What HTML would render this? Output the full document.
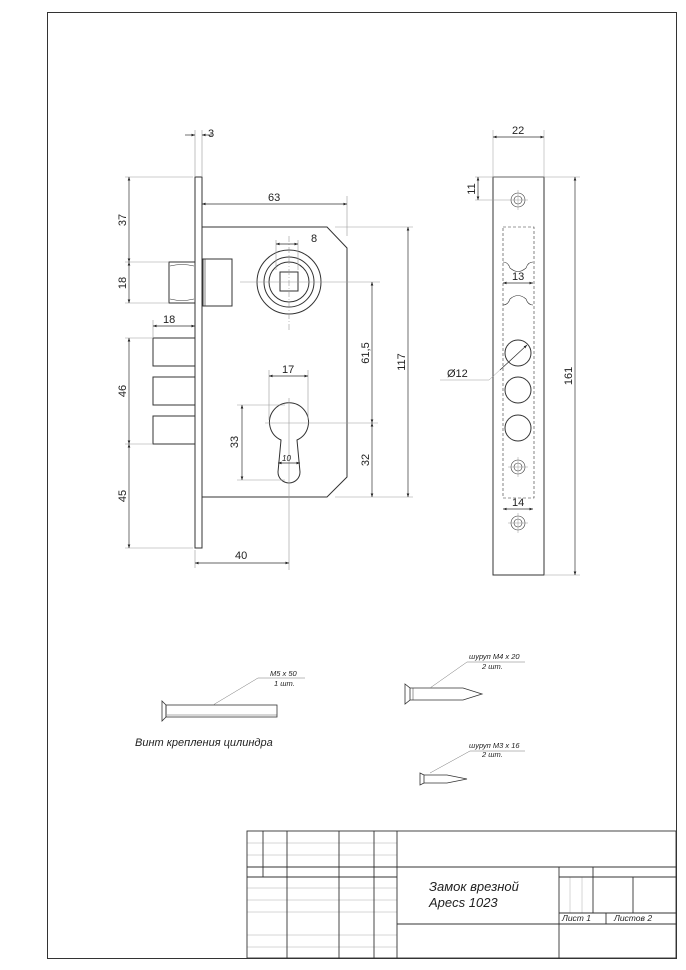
<!DOCTYPE html>
<html><head><meta charset="utf-8"><style>
html,body{margin:0;padding:0;background:#fff}
svg{display:block}
text{font-family:"Liberation Sans",sans-serif;fill:#222}
</style></head><body>
<svg width="686" height="970" viewBox="0 0 686 970" xmlns="http://www.w3.org/2000/svg">
<defs>
<marker id="a" viewBox="0 0 8 6" refX="8" refY="3" markerWidth="5" markerHeight="4" orient="auto-start-reverse"><path d="M0,0L8,3L0,6z" fill="#222"/></marker>
</defs>
<rect x="0" y="0" width="686" height="970" fill="#fff"/>
<rect x="47.5" y="12.5" width="629" height="946" fill="none" stroke="#333" stroke-width="1"/>

<g stroke="#333" fill="none" stroke-width="1">
<rect x="195" y="177" width="7" height="371"/>
<path d="M202,227 H327 L347,248 V477 L327,497 H202"/>
<path d="M169,262 H195 V303 H169 Z"/>
<path d="M170,266 Q182,263 194,266 M170,299 Q182,302 194,299" stroke-width="0.6"/>
<rect x="203" y="259" width="29" height="47"/>
<line x1="205" y1="259" x2="205" y2="306" stroke-width="0.6"/>
<circle cx="289" cy="282" r="32"/>
<circle cx="289" cy="282" r="25"/>
<circle cx="289" cy="282" r="20"/>
<rect x="280" y="272" width="18" height="19"/>
<rect x="153" y="338" width="42" height="28"/>
<rect x="153" y="377" width="42" height="28"/>
<rect x="153" y="416" width="42" height="28"/>
<path d="M281,440 A19.5,19.5 0 1 1 297,440 L300,472 A11,11 0 0 1 278,472 Z"/>
</g>
<g stroke="#999" stroke-width="0.6" fill="none">
<line x1="289" y1="236" x2="289" y2="330" stroke-dasharray="6,2,1,2"/>
<line x1="240" y1="282" x2="380" y2="282"/>
<line x1="289" y1="398" x2="289" y2="570"/>
<line x1="265" y1="423" x2="378" y2="423"/>
<line x1="195" y1="130" x2="195" y2="177"/><line x1="202" y1="130" x2="202" y2="177"/>
<line x1="347" y1="196" x2="347" y2="236"/>
<line x1="276" y1="240" x2="276" y2="270"/><line x1="298" y1="240" x2="298" y2="270"/>
<line x1="125" y1="177" x2="193" y2="177"/>
<line x1="125" y1="262" x2="168" y2="262"/>
<line x1="125" y1="303" x2="168" y2="303"/>
<line x1="125" y1="338" x2="152" y2="338"/>
<line x1="125" y1="444" x2="152" y2="444"/>
<line x1="125" y1="548" x2="193" y2="548"/>
<line x1="153" y1="320" x2="153" y2="337"/>
<line x1="269" y1="370" x2="269" y2="420"/><line x1="308" y1="370" x2="308" y2="420"/>
<line x1="237" y1="405" x2="285" y2="405"/><line x1="237" y1="480" x2="285" y2="480"/>
<line x1="335" y1="227" x2="413" y2="227"/>
<line x1="335" y1="497" x2="413" y2="497"/>
<line x1="195" y1="550" x2="195" y2="568"/>
</g>
<g stroke="#333" stroke-width="0.7" fill="none">
<line x1="185" y1="135" x2="195" y2="135" marker-end="url(#a)"/>
<line x1="212" y1="135" x2="202" y2="135" marker-end="url(#a)"/>
<line x1="202" y1="204" x2="347" y2="204" marker-start="url(#a)" marker-end="url(#a)"/>
<line x1="276" y1="244" x2="298" y2="244" marker-start="url(#a)" marker-end="url(#a)"/>
<line x1="129" y1="177" x2="129" y2="262" marker-start="url(#a)" marker-end="url(#a)"/>
<line x1="129" y1="262" x2="129" y2="303" marker-start="url(#a)" marker-end="url(#a)"/>
<line x1="129" y1="338" x2="129" y2="444" marker-start="url(#a)" marker-end="url(#a)"/>
<line x1="129" y1="444" x2="129" y2="548" marker-start="url(#a)" marker-end="url(#a)"/>
<line x1="153" y1="326" x2="195" y2="326" marker-start="url(#a)" marker-end="url(#a)"/>
<line x1="269" y1="376" x2="308" y2="376" marker-start="url(#a)" marker-end="url(#a)"/>
<line x1="242" y1="405" x2="242" y2="480" marker-start="url(#a)" marker-end="url(#a)"/>
<line x1="278" y1="463" x2="300" y2="463" marker-start="url(#a)" marker-end="url(#a)"/>
<line x1="372" y1="282" x2="372" y2="423" marker-start="url(#a)" marker-end="url(#a)"/>
<line x1="372" y1="423" x2="372" y2="497" marker-start="url(#a)" marker-end="url(#a)"/>
<line x1="408" y1="227" x2="408" y2="497" marker-start="url(#a)" marker-end="url(#a)"/>
<line x1="195" y1="563" x2="289" y2="563" marker-start="url(#a)" marker-end="url(#a)"/>
</g>
<g font-size="11">
<text x="208" y="137">3</text>
<text x="268" y="201">63</text>
<text x="311" y="242">8</text>
<text x="163" y="323">18</text>
<text x="282" y="373">17</text>
<text x="282" y="461" font-size="8" font-style="italic">10</text>
<text x="235" y="559">40</text>
<text transform="translate(126,220) rotate(-90)" text-anchor="middle">37</text>
<text transform="translate(126,283) rotate(-90)" text-anchor="middle">18</text>
<text transform="translate(126,391) rotate(-90)" text-anchor="middle">46</text>
<text transform="translate(126,496) rotate(-90)" text-anchor="middle">45</text>
<text transform="translate(238,442) rotate(-90)" text-anchor="middle">33</text>
<text transform="translate(369,353) rotate(-90)" text-anchor="middle">61,5</text>
<text transform="translate(369,460) rotate(-90)" text-anchor="middle">32</text>
<text transform="translate(405,362) rotate(-90)" text-anchor="middle">117</text>
</g>

<g stroke="#333" fill="none" stroke-width="1">
<rect x="493" y="177" width="51" height="398"/>
<circle cx="518" cy="353" r="13"/>
<circle cx="518" cy="390" r="13"/>
<circle cx="518" cy="428" r="13"/>
</g>
<g stroke="#333" fill="none" stroke-width="0.6">
<rect x="503" y="227" width="31" height="271" stroke-dasharray="3,2"/>
<path d="M503,262 Q508,262 510,268 Q518,275 526,268 Q528,262 533,262"/>
<path d="M503,305 Q508,305 510,299 Q518,292 526,299 Q528,305 533,305"/>
<circle cx="518" cy="200" r="7"/><circle cx="518" cy="200" r="4"/>
<circle cx="518" cy="467" r="7"/><circle cx="518" cy="467" r="4"/>
<circle cx="518" cy="523" r="7"/><circle cx="518" cy="523" r="4"/>
</g>
<g stroke="#999" stroke-width="0.5">
<line x1="508" y1="200" x2="528" y2="200"/><line x1="518" y1="190" x2="518" y2="210"/>
<line x1="508" y1="467" x2="528" y2="467"/><line x1="518" y1="457" x2="518" y2="477"/>
<line x1="508" y1="523" x2="528" y2="523"/><line x1="518" y1="513" x2="518" y2="533"/>
<line x1="493" y1="130" x2="493" y2="177"/><line x1="544" y1="130" x2="544" y2="177"/>
<line x1="475" y1="177" x2="580" y2="177"/><line x1="475" y1="200" x2="508" y2="200"/>
<line x1="544" y1="575" x2="580" y2="575"/>
<line x1="527" y1="345" x2="489" y2="380"/><line x1="489" y1="380" x2="440" y2="380"/>
</g>
<g stroke="#333" stroke-width="0.7" fill="none">
<line x1="493" y1="137" x2="544" y2="137" marker-start="url(#a)" marker-end="url(#a)"/>
<line x1="478" y1="177" x2="478" y2="200" marker-start="url(#a)" marker-end="url(#a)"/>
<line x1="503" y1="283" x2="533" y2="283" marker-start="url(#a)" marker-end="url(#a)"/>
<line x1="503" y1="509" x2="533" y2="509" marker-start="url(#a)" marker-end="url(#a)"/>
<line x1="575" y1="177" x2="575" y2="575" marker-start="url(#a)" marker-end="url(#a)"/>
<line x1="500" y1="370" x2="527" y2="345" marker-end="url(#a)"/>
</g>
<g font-size="11">
<text x="512" y="134">22</text>
<text transform="translate(475,189) rotate(-90)" text-anchor="middle">11</text>
<text x="512" y="280">13</text>
<text x="512" y="506">14</text>
<text x="447" y="377">Ø12</text>
<text transform="translate(572,376) rotate(-90)" text-anchor="middle">161</text>
</g>

<g stroke="#333" stroke-width="0.8" fill="none">
<path d="M162,701 L166,705 V717 L162,721 Z"/>
<rect x="166" y="705" width="111" height="12"/>
<line x1="167" y1="715" x2="277" y2="715" stroke-width="0.4"/>
<path d="M405,684 L410,688 V700 L405,704 Z"/>
<path d="M410,688 H463 L482,694 L463,700 H410"/>
<line x1="413" y1="688" x2="413" y2="700" stroke-width="0.5"/>
<path d="M420,773 L424,775 V783 L420,785 Z"/>
<path d="M424,775 H447 L467,779 L447,783 H424"/>
</g>
<g stroke="#777" stroke-width="0.5">
<polyline points="213,705 258,678 305,678" fill="none"/>
<polyline points="430,688 467,662 525,662" fill="none"/>
<polyline points="430,773 470,751 525,751" fill="none"/>
</g>
<g font-size="7.5" font-style="italic">
<text x="270" y="676">M5 x 50</text>
<text x="274" y="686">1 шт.</text>
<text x="469" y="659">шуруп M4 x 20</text>
<text x="482" y="669">2 шт.</text>
<text x="469" y="748">шуруп M3 x 16</text>
<text x="482" y="757">2 шт.</text>
</g>
<text x="135" y="746" font-size="11" font-style="italic">Винт крепления цилиндра</text>

<g stroke="#999" stroke-width="0.4">
<line x1="247" y1="843" x2="397" y2="843"/><line x1="247" y1="855" x2="397" y2="855"/>
<line x1="247" y1="888" x2="397" y2="888"/><line x1="247" y1="900" x2="397" y2="900"/>
<line x1="247" y1="912" x2="397" y2="912"/><line x1="247" y1="935" x2="397" y2="935"/>
<line x1="247" y1="947" x2="397" y2="947"/>
<line x1="570" y1="877" x2="570" y2="913"/><line x1="582" y1="877" x2="582" y2="913"/>
</g>
<g stroke="#333" stroke-width="0.9" fill="none">
<rect x="247" y="831" width="429" height="127"/>
<line x1="263" y1="831" x2="263" y2="877"/>
<line x1="287" y1="831" x2="287" y2="958"/>
<line x1="339" y1="831" x2="339" y2="958"/>
<line x1="374" y1="831" x2="374" y2="958"/>
<line x1="397" y1="831" x2="397" y2="958"/>
<line x1="247" y1="867" x2="676" y2="867"/>
<line x1="247" y1="877" x2="397" y2="877"/>
<line x1="559" y1="867" x2="559" y2="958"/>
<line x1="559" y1="877" x2="676" y2="877"/>
<line x1="593" y1="867" x2="593" y2="913"/>
<line x1="633" y1="877" x2="633" y2="913"/>
<line x1="559" y1="913" x2="676" y2="913"/>
<line x1="397" y1="924" x2="676" y2="924"/>
<line x1="606" y1="913" x2="606" y2="924"/>
</g>
<g font-style="italic">
<text x="429" y="891" font-size="13">Замок врезной</text>
<text x="429" y="907" font-size="13">Apecs 1023</text>
<text x="562" y="921" font-size="8.5">Лист 1</text>
<text x="614" y="921" font-size="8.5">Листов 2</text>
</g>
</svg>
</body></html>
